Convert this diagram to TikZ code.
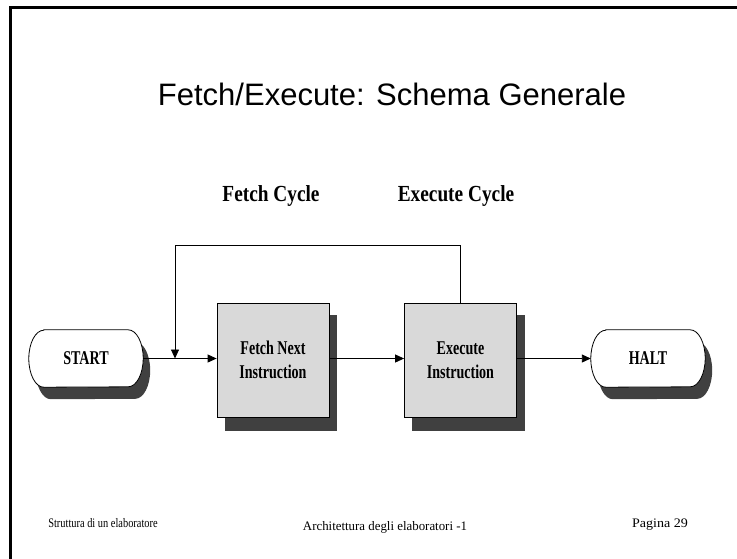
\documentclass[tikz,border=0pt]{standalone}
\usepackage{fontspec}
\setmainfont{Liberation Serif}
\newfontfamily\titlefont{Liberation Sans}
\usetikzlibrary{arrows.meta}
\definecolor{boxfill}{HTML}{D9D9D9}
\definecolor{shadowc}{HTML}{404040}
\tikzset{
  tip/.style={-{Triangle[length=9pt,width=8pt]}},
  conn/.style={line width=0.9pt, tip},
  procbox/.style={draw=black, line width=0.8pt, fill=boxfill, minimum width=112pt, minimum height=114pt, inner sep=0pt, align=center, font=\fontsize{19.5}{24}\selectfont\bfseries},
  termbox/.style={draw=none, minimum width=114pt, minimum height=57pt, inner sep=0pt},
  lbl/.style={font=\fontsize{19.5}{24}\selectfont\bfseries, align=center},
  foot/.style={font=\fontsize{13}{15}\selectfont, anchor=base}
}
\newcommand{\sq}[1]{\scalebox{0.72}[1]{#1}}
\begin{document}
\begin{tikzpicture}[x=1pt,y=-1pt]
\useasboundingbox (0,0) rectangle (737,558);
\fill[white] (0,0) rectangle (737,558);
% frame
\draw[line width=2.5pt] (10.5,560) -- (10.5,7.5) -- (740,7.5);

% title
\node[anchor=base, font=\titlefont\fontsize{31}{36}\selectfont] (title) at (392,105) {Fetch/Execute: Schema Generale};

% cycle labels
\node[font=\fontsize{23}{28}\selectfont\bfseries] (fc) at (271,196) {\scalebox{0.84}[1]{Fetch Cycle}};
\node[font=\fontsize{23}{28}\selectfont\bfseries] (ec) at (456,196) {\scalebox{0.84}[1]{Execute Cycle}};

% shadows
\fill[shadowc] (225,315) rectangle (337,431);
\fill[shadowc] (412,315) rectangle (525,431);

% processing boxes
\node[procbox] (fetch) at (273,360) {\sq{Fetch Next}\\\sq{Instruction}};
\node[procbox] (exec) at (460.5,360) {\sq{Execute}\\\sq{Instruction}};

% terminals
\node[termbox] (start) at (86,358.5) {};
\node[termbox] (halt) at (648,358.5) {};
% terminal shadows
\fill[shadowc] ([xshift=22pt,yshift=-12pt]start.north west) -- ([xshift=-8pt,yshift=-12pt]start.north east)
  arc[start angle=90,end angle=-90,x radius=15pt,y radius=28.5pt] -- ([xshift=22pt,yshift=-12pt]start.south west)
  arc[start angle=270,end angle=90,x radius=15pt,y radius=28.5pt] -- cycle;
\fill[shadowc] ([xshift=22pt,yshift=-12pt]halt.north west) -- ([xshift=-8pt,yshift=-12pt]halt.north east)
  arc[start angle=90,end angle=-90,x radius=15pt,y radius=28.5pt] -- ([xshift=22pt,yshift=-12pt]halt.south west)
  arc[start angle=270,end angle=90,x radius=15pt,y radius=28.5pt] -- cycle;
\draw[fill=white, line width=0.8pt] ([xshift=15pt]start.north west) -- ([xshift=-15pt]start.north east)
  arc[start angle=90,end angle=-90,x radius=15pt,y radius=28.5pt] -- ([xshift=15pt]start.south west)
  arc[start angle=270,end angle=90,x radius=15pt,y radius=28.5pt] -- cycle;
\draw[fill=white, line width=0.8pt] ([xshift=15pt]halt.north west) -- ([xshift=-15pt]halt.north east)
  arc[start angle=90,end angle=-90,x radius=15pt,y radius=28.5pt] -- ([xshift=15pt]halt.south west)
  arc[start angle=270,end angle=90,x radius=15pt,y radius=28.5pt] -- cycle;
\node[lbl] (starttxt) at (start.center) {\sq{START}};
\node[lbl] (halttxt) at (halt.center) {\sq{HALT}};

% connectors
\coordinate (j) at (175,358.5);
\coordinate (up) at (175,245);
\coordinate (ur) at (460.5,245);
\draw[conn] (start.east) -- (fetch.west |- start.east);
\draw[conn] (fetch.east |- start.east) -- (exec.west |- start.east);
\draw[conn] (exec.east |- start.east) -- (halt.west);
\draw[conn] (exec.north) -- (ur) -- (up) -- (j);

% footer
\node[foot] (f1) at (103,527) {\scalebox{0.8}[1]{Struttura di un elaboratore}};
\node[foot] (f2) at (385,530) {\scalebox{0.99}[1]{Architettura degli elaboratori -1}};
\node[foot] (f3) at (660,527) {\scalebox{1.08}[1]{Pagina 29}};
\end{tikzpicture}
\end{document}
